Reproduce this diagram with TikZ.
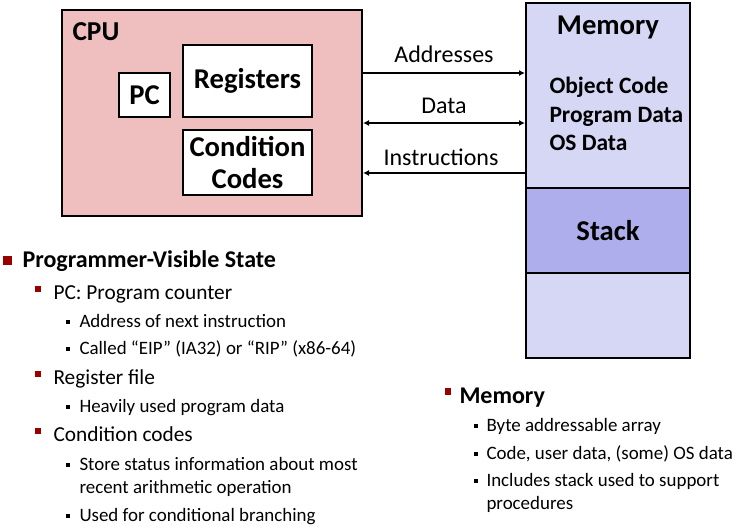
\documentclass[tikz,border=0pt]{standalone}
\usepackage{fontspec}
\setmainfont{Carlito}
\usetikzlibrary{arrows.meta}

\definecolor{cpupink}{RGB}{239,190,190}
\definecolor{memblue}{RGB}{214,214,245}
\definecolor{stackblue}{RGB}{174,174,236}
\definecolor{bulletred}{RGB}{153,0,0}

\tikzset{every picture/.style={line width=0.75pt}}
\tikzset{
  box/.style={draw, line width=1.5pt, inner sep=0pt, fill=white},
  boxtext/.style={font=\fontsize{21.5}{24}\selectfont\bfseries, align=center},
  buslabel/.style={font=\fontsize{18}{20}\selectfont, inner sep=0pt},
  bus/.style={line width=1.3pt, -{Latex[length=4.5pt,width=4.5pt]}},
  memline/.style={anchor=base west, inner sep=0pt, font=\fontsize{17.6}{20}\selectfont\bfseries},
  headitem/.style={anchor=base west, inner sep=0pt, font=\fontsize{18}{21}\selectfont\bfseries},
  subitem/.style={anchor=base west, inner sep=0pt, font=\fontsize{16}{19}\selectfont},
  subsubitem/.style={anchor=base west, inner sep=0pt, font=\fontsize{14.2}{17}\selectfont},
  redbig/.style={fill=bulletred, inner sep=0pt, minimum size=6.75pt},
  redsmall/.style={fill=bulletred, inner sep=0pt, minimum width=4.5pt, minimum height=5pt},
  blackdot/.style={fill=black, inner sep=0pt, minimum size=3pt}
}

\begin{document}
\begin{tikzpicture}[x=0.75pt,y=0.75pt,yscale=-1,xscale=1]
        \useasboundingbox (0,0) rectangle (735,526);
        % CPU
        \node [box, fill=cpupink, minimum width=225pt, minimum height=154.5pt] (cpu) at (212,113) {};
        \node [anchor=base west, inner sep=0pt, font=\fontsize{20.5}{23}\selectfont\bfseries] (cputitle) at (72,40) {CPU};
        \node [box, boxtext, minimum width=38.25pt, minimum height=33pt] (pc) at (144.5,95) {PC};
        \node [box, boxtext, minimum width=96.75pt, minimum height=54pt] (regs) at (247.5,81) {Registers};
        \node [box, boxtext, minimum width=96.75pt, minimum height=48.75pt] (cc) at (247.5,162.5) {Condition\\Codes};
        % Memory
        \node [box, fill=memblue, minimum width=123pt, minimum height=138.75pt] (mem) at (608,95.5) {};
        \node [box, fill=stackblue, minimum width=123pt, minimum height=63.75pt] (stack) at (608,230.5) {};
        \node [box, fill=memblue, minimum width=123pt, minimum height=63.75pt] (membot) at (608,315.5) {};
        \node [boxtext, inner sep=0pt, anchor=base] (memtitle) at (608,34) {Memory};
        \node [boxtext, inner sep=0pt] (stacktitle) at (stack) {Stack};
        \node [memline] (objcode) at (549,93) {Object Code};
        \node [memline] (progdata) at (549,122) {Program Data};
        \node [memline] (osdata) at (549,150) {OS Data};
        % Buses
        \coordinate (a1) at (cpu.east |- 0,73);
        \coordinate (a2) at (mem.west |- 0,73);
        \coordinate (d1) at (cpu.east |- 0,123);
        \coordinate (d2) at (mem.west |- 0,123);
        \coordinate (i1) at (cpu.east |- 0,173);
        \coordinate (i2) at (mem.west |- 0,173);
        \draw [bus] (a1) -- (a2);
        \draw [bus, {Latex[length=4.5pt,width=4.5pt]}-{Latex[length=4.5pt,width=4.5pt]}] (d1) -- (d2);
        \draw [bus] (i2) -- (i1);
        \node [buslabel] (addrlabel) at (444,54) {Addresses};
        \node [buslabel] (datalabel) at (444,106) {Data};
        \node [buslabel] (instrlabel) at (441,157) {Instructions};
        % Programmer-visible state
        \node [redbig] (b1) at (7.5,260.5) {};
        \node [headitem] (pvs) at (22,267) {Programmer-Visible State};
        \node [redsmall] (b11) at (37.5,289) {};
        \node [subitem] (pcitem) at (53,299) {PC: Program counter};
        \node [blackdot] (b111) at (67.5,322) {};
        \node [subsubitem] (pc1) at (79,327) {Address of next instruction};
        \node [blackdot] (b112) at (67.5,349) {};
        \node [subsubitem] (pc2) at (79,354) {Called “EIP” (IA32) or “RIP” (x86-64)};
        \node [redsmall] (b12) at (37.5,374) {};
        \node [subitem] (rfitem) at (53,384) {Register file};
        \node [blackdot] (b121) at (67.5,407) {};
        \node [subsubitem] (rf1) at (79,412) {Heavily used program data};
        \node [redsmall] (b13) at (37.5,431) {};
        \node [subitem] (ccitem) at (53,441) {Condition codes};
        \node [blackdot] (b131) at (67.5,465) {};
        \node [subsubitem] (cc1) at (79,470) {Store status information about most};
        \node [subsubitem] (cc1b) at (79,493) {recent arithmetic operation};
        \node [blackdot] (b132) at (67.5,516) {};
        \node [subsubitem] (cc2) at (79,521) {Used for conditional branching};
        % Memory notes
        \node [redsmall] (b2) at (447.5,391.5) {};
        \node [headitem] (memhead) at (459,403) {Memory};
        \node [blackdot] (b21) at (475.5,426) {};
        \node [subsubitem] (m1) at (486,431) {Byte addressable array};
        \node [blackdot] (b22) at (475.5,454) {};
        \node [subsubitem] (m2) at (486,459) {Code, user data, (some) OS data};
        \node [blackdot] (b23) at (475.5,481) {};
        \node [subsubitem] (m3) at (486,486) {Includes stack used to support};
        \node [subsubitem] (m3b) at (486,509) {procedures};
\end{tikzpicture}
\end{document}
